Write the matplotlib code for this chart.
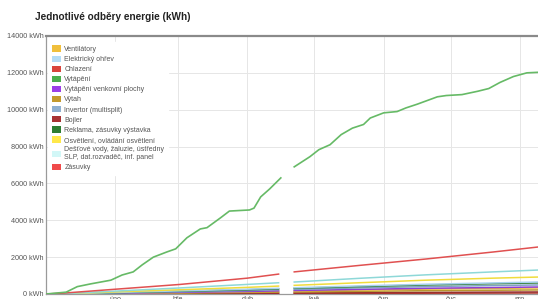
import numpy as np
import matplotlib
matplotlib.use("Agg")
import matplotlib.pyplot as plt
from matplotlib.patches import Patch
from datetime import date, timedelta

plt.rcParams['font.family'] = ['Liberation Sans', 'DejaVu Sans']

start = date(2023, 1, 1)
nan = np.nan

# Vytápění - dense samples (day offset, kWh); gap between day 105 and 111
heat_days = [0, 9, 14, 20, 29, 34, 39, 43, 48, 54, 58, 63, 69, 72, 78, 82, 91, 93, 96, 100, 105,
             108, 111, 118, 122, 127, 132, 137, 142, 145, 151, 157, 161, 166, 175, 179, 186, 193,
             198, 203, 209, 215, 220]
heat_vals = [0, 100, 400, 550, 750, 1030, 1200, 1580, 2000, 2280, 2450, 3050, 3530, 3600, 4130,
             4500, 4560, 4660, 5270, 5700, 6300, nan, 6900, 7450, 7830, 8100, 8650, 9000, 9200,
             9550, 9830, 9900, 10100, 10300, 10700, 10770, 10820, 11000, 11150, 11480, 11800,
             12000, 12030]

# other series - coarse samples
small_days = [0, 8, 30, 60, 90, 104, 108, 111, 140, 170, 200, 220]
ventilatory = [0, 5, 35, 80, 125, 150, nan, 165, 215, 265, 305, 330]
el_ohrev = [0, 10, 80, 170, 260, 310, nan, 340, 440, 530, 600, 650]
chlazeni = [0, 1, 5, 12, 20, 25, nan, 27, 35, 43, 50, 55]
venkovni = [0, 5, 40, 90, 140, 170, nan, 190, 250, 310, 350, 380]
vytah = [0, 3, 25, 55, 85, 100, nan, 110, 145, 180, 205, 220]
invertor = [0, 8, 60, 120, 190, 230, nan, 250, 330, 400, 460, 490]
bojler = [0, 2, 12, 28, 42, 50, nan, 55, 72, 88, 102, 110]
reklama = [0, 10, 70, 150, 230, 280, nan, 310, 400, 490, 560, 600]
osvetleni = [0, 15, 110, 230, 360, 430, nan, 470, 610, 750, 860, 920]
destove = [0, 20, 150, 330, 520, 610, nan, 650, 850, 1040, 1200, 1300]
zasuvky = [0, 50, 250, 520, 860, 1080, nan, 1200, 1550, 1900, 2280, 2550]

labels = ["Ventilátory", "Elektrický ohřev", "Chlazení", "Vytápění", "Vytápění venkovní plochy",
          "Výtah", "Invertor (multisplit)", "Bojler", "Reklama, zásuvky výstavka",
          "Osvětlení, ovládání osvětlení",
          "Dešťové vody, žaluzie, ústředny\nSLP, dat.rozvaděč, inf. panel", "Zásuvky"]
colors = ["#f0bf3c", "#b3dcf7", "#d9443c", "#4cae4c", "#9b3fe6", "#c49a2c", "#8fb0d0",
          "#a83232", "#2e7d32", "#ffe84a", "#d2f7f7", "#f04a4a"]
line_colors = ["#e8b83c", "#a8d0ee", "#b03a30", "#66ba66", "#8e3ed6", "#b8962e", "#7f9fc4",
               "#9a3030", "#2f7d34", "#f0dc3c", "#8ed8d8", "#e05050"]

small_series = [ventilatory, el_ohrev, chlazeni, None, venkovni, vytah, invertor, bojler,
                reklama, osvetleni, destove, zasuvky]

def to_dates(days):
    return [start + timedelta(days=d) for d in days]

fig = plt.figure(figsize=(5.38, 2.99), dpi=100)
ax = fig.add_axes([46 / 538, 5 / 299, 1 - 46 / 538, 258 / 299])

# draw small series bottom-up so brighter ones sit on top
order = [2, 7, 5, 0, 4, 6, 8, 1, 9, 10, 11]
for i in order:
    ax.plot(to_dates(small_days), small_series[i], color=line_colors[i], lw=1.1, zorder=3)
ax.plot(to_dates(heat_days), heat_vals, color=line_colors[3], lw=1.2, zorder=4)

ax.set_xlim(start, start + timedelta(days=220))
ax.set_ylim(0, 14000)
ax.set_yticks(range(0, 14001, 2000))
ax.set_yticklabels([f"{v} kWh" for v in range(0, 14001, 2000)])

# month ticks - labels sit mostly below the image edge, as in the original
months = [date(2023, m, 1) for m in range(2, 9)]
ax.set_xticks(months)
ax.set_xticklabels(["úno", "bře", "dub", "kvě", "čvn", "čvc", "srp"])

ax.grid(True, color="#e6e6e6", lw=0.7)
ax.set_axisbelow(True)
ax.tick_params(axis="both", length=0, labelsize=5.2, labelcolor="#555555", pad=1.5)

ax.spines["right"].set_visible(False)
ax.spines["top"].set_color("#8a8a8a")
ax.spines["top"].set_linewidth(1.6)
ax.spines["left"].set_color("#9a9a9a")
ax.spines["left"].set_linewidth(0.9)
ax.spines["bottom"].set_color("#9a9a9a")
ax.spines["bottom"].set_linewidth(0.9)

handles = [Patch(facecolor=c, edgecolor="none") for c in colors]
leg = ax.legend(handles, labels, loc="upper left", bbox_to_anchor=(0.0, 0.985),
                fontsize=5.0, frameon=True, fancybox=False, framealpha=1,
                edgecolor="white", handlelength=1.35, handleheight=1.05,
                labelspacing=0.36, handletextpad=0.5, borderpad=0.5, borderaxespad=0.3)
for t in leg.get_texts():
    t.set_color("#555555")
leg.set_zorder(10)

fig.text(35 / 538, 1 - 17 / 299, "Jednotlivé odběry energie (kWh)", fontsize=7.2,
         fontweight="bold", color="#222222", va="center", ha="left")

fig.savefig("out.png", dpi=100)
